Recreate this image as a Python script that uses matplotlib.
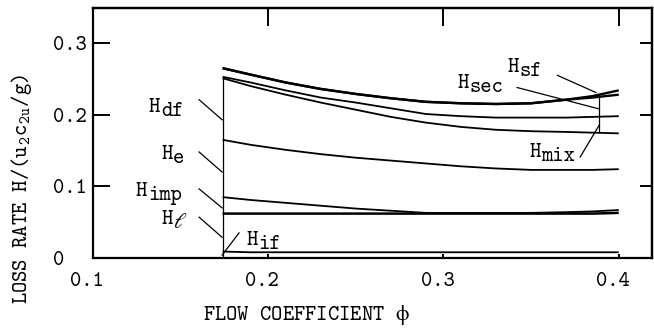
import matplotlib
matplotlib.use("Agg")
import matplotlib.pyplot as plt
import matplotlib.transforms as mtransforms

plt.rcParams['font.family'] = ['cmtt10', 'DejaVu Serif']
plt.rcParams['mathtext.default'] = 'regular'
plt.rcParams['mathtext.fontset'] = 'cm'

# flow coefficient grid and cumulative loss curves
phi = [0.174, 0.19, 0.21, 0.23, 0.25, 0.27, 0.29, 0.31, 0.33, 0.35, 0.37, 0.385, 0.4]
h_if = [0.009, 0.008, 0.008, 0.008, 0.008, 0.008, 0.008, 0.008, 0.008, 0.008, 0.008, 0.008, 0.008]
h_l = [0.062, 0.062, 0.062, 0.062, 0.062, 0.062, 0.062, 0.062, 0.062, 0.062, 0.062, 0.062, 0.063]
h_imp = [0.085, 0.081, 0.077, 0.073, 0.069, 0.066, 0.063, 0.063, 0.063, 0.063, 0.064, 0.065, 0.067]
h_e = [0.165, 0.158, 0.151, 0.145, 0.140, 0.136, 0.132, 0.128, 0.125, 0.123, 0.123, 0.123, 0.124]
h_df = [0.251, 0.240, 0.228, 0.217, 0.207, 0.197, 0.189, 0.183, 0.179, 0.177, 0.176, 0.175, 0.174]
h_mix = [0.253, 0.245, 0.234, 0.224, 0.217, 0.209, 0.201, 0.198, 0.196, 0.196, 0.196, 0.197, 0.198]
h_sec = [0.265, 0.256, 0.245, 0.236, 0.229, 0.223, 0.218, 0.216, 0.215, 0.216, 0.221, 0.224, 0.228]
h_sf = [0.265, 0.256, 0.245, 0.236, 0.229, 0.223, 0.218, 0.216, 0.215, 0.216, 0.221, 0.226, 0.234]

curves = [h_if, h_l, h_imp, h_e, h_df, h_mix, h_sec, h_sf]
widths = [1.3, 1.8, 1.3, 1.3, 1.3, 1.3, 1.7, 1.7]

x_ticks = [0.1, 0.2, 0.3, 0.4]
x_labels = ['0.1', '0.2', '0.3', '0.4']
y_ticks = [0, 0.1, 0.2, 0.3]
y_labels = ['0', '0.1', '0.2', '0.3']

fs = 15.5

fig = plt.figure(figsize=(6.54, 3.28), dpi=100)
ax = fig.add_axes([0.142, 0.2134, 0.855, 0.7622])

for c, w in zip(curves, widths):
    ax.plot(phi, c, color='black', lw=w, solid_capstyle='butt')

# vertical reference lines at both ends
ax.plot([phi[0], phi[0]], [0, h_df[0]], color='black', lw=0.9)
ax.plot([0.389, 0.389], [0.176, 0.228], color='black', lw=0.9)

# labels (H + lowered full-size subscript) with leader lines
labels = [
    ('df', 0.132, 0.204, (0.1606, 0.221), (0.1737, 0.193)),
    ('e', 0.139, 0.138, (0.1606, 0.148), (0.1737, 0.120)),
    ('imp', 0.1246, 0.0867, (0.1606, 0.0965), (0.1737, 0.070)),
    (r'$\ell$', 0.139, 0.0476, (0.1606, 0.057), (0.1737, 0.029)),
    ('if', 0.1874, 0.018, (0.1834, 0.035), (0.1737, 0.004)),
    ('sf', 0.3366, 0.26, (0.365, 0.255), (0.387, 0.231)),
    ('sec', 0.308, 0.2378, (0.342, 0.238), (0.389, 0.208)),
    ('mix', 0.349, 0.141, (0.378, 0.141), (0.389, 0.186)),
]
for sub, tx, ty, p0, p1 in labels:
    ax.text(tx, ty, 'H', fontsize=fs, va='baseline', ha='left')
    ax.annotate(sub, (tx, ty), xytext=(8.6, -3), textcoords='offset points',
                fontsize=fs, va='baseline', ha='left')
    ax.plot([p0[0], p1[0]], [p0[1], p1[1]], color='black', lw=0.9)

ax.set_xlim(0.1, 0.419)
ax.set_ylim(0, 0.349)

ax.set_xticks(x_ticks, x_labels, fontsize=fs)
ax.set_yticks(y_ticks, y_labels, fontsize=fs)
ax.tick_params(axis='x', direction='in', length=3, width=1.4, pad=10)
ax.tick_params(axis='y', direction='in', length=12, width=1.4, pad=29)
for lab in ax.get_yticklabels():
    lab.set_horizontalalignment('left')
shift = mtransforms.ScaledTranslation(-6 / 100, 0, fig.dpi_scale_trans)
for lab in ax.get_xticklabels():
    lab.set_transform(lab.get_transform() + shift)

top = ax.secondary_xaxis('top')
top.set_xticks([0.2, 0.3, 0.4], ['', '', ''])
top.tick_params(direction='in', length=13, width=1.4)
right = ax.secondary_yaxis('right')
right.set_yticks([0.1, 0.2, 0.3], ['', '', ''])
right.tick_params(direction='in', length=9, width=1.4)

for sp in list(ax.spines.values()) + [top.spines['top'], right.spines['right']]:
    sp.set_linewidth(1.6)

fig.text(306 / 654, 1 - 315 / 328, r'FLOW COEFFICIENT $\phi$', fontsize=fs,
         ha='center', va='center')
fig.text(22 / 654, 1 - 189 / 328, 'LOSS RATE H/(u$_2$c$_{2u}$/g)', fontsize=fs,
         rotation=90, ha='center', va='center')

fig.savefig('out.png', dpi=100)
